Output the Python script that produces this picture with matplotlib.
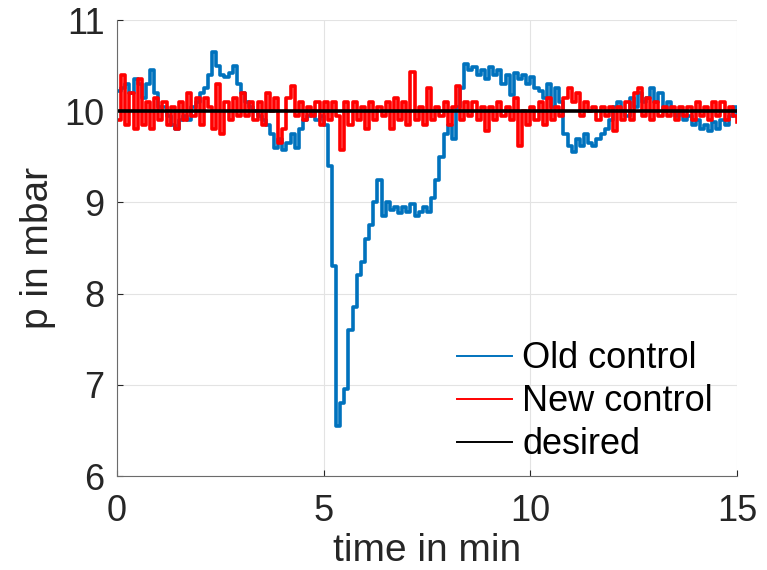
import numpy as np
import matplotlib.pyplot as plt

plt.rcParams['font.family'] = ['Liberation Sans', 'DejaVu Sans']

# pressure readings, one sample every 0.1 min
dt = 0.1
p_old = [10.22, 10.25, 10.3, 10.2, 10.35, 10.3, 10.15, 10.3, 10.45, 10.2,
         10.05, 10.05, 9.95, 9.85, 9.8, 9.9, 9.95, 9.9, 10.05, 10.1,
         10.2, 10.25, 10.4, 10.65, 10.5, 10.4, 10.38, 10.42, 10.5, 10.3,
         10.2, 10.1, 10.05, 10.0, 9.95, 9.9, 9.85, 9.75, 9.6, 9.7,
         9.58, 9.65, 9.75, 9.6, 9.8, 9.9, 9.95, 10.0, 9.9, 9.95,
         9.85, 9.4, 8.3, 6.55, 6.8, 6.95, 7.6, 7.85, 8.2, 8.35,
         8.6, 8.75, 9.0, 9.25, 8.85, 9.0, 8.92, 8.95, 8.88, 8.95,
         8.9, 8.98, 8.85, 8.9, 8.95, 8.9, 9.05, 9.25, 9.5, 9.75,
         9.85, 9.7, 10.05, 10.25, 10.52, 10.45, 10.48, 10.4, 10.45, 10.35,
         10.48, 10.4, 10.45, 10.3, 10.4, 10.18, 10.42, 10.35, 10.4, 10.3,
         10.38, 10.25, 10.22, 10.15, 10.3, 10.05, 10.25, 10.1, 9.75, 9.62,
         9.55, 9.7, 9.62, 9.75, 9.65, 9.62, 9.7, 9.75, 9.8, 9.9,
         10.05, 10.1, 10.0, 9.95, 10.15, 10.05, 10.2, 10.1, 10.15, 10.25,
         10.1, 10.2, 10.0, 10.1, 10.0, 9.95, 10.0, 9.9, 9.95, 9.85,
         9.9, 9.8, 9.85, 9.78, 9.88, 9.8, 9.9, 9.85, 9.95, 10.05,
         9.95]
p_new = [9.9, 10.4, 9.85, 10.2, 9.8, 10.35, 9.85, 10.1, 9.8, 10.15,
         9.9, 10.1, 9.85, 10.05, 9.8, 10.1, 9.9, 10.2, 9.95, 10.15,
         9.85, 10.15, 10.05, 9.8, 10.3, 9.75, 10.1, 9.9, 10.15, 9.95,
         10.2, 9.95, 10.1, 9.9, 10.1, 9.85, 10.2, 10.0, 10.15, 9.65,
         9.8, 10.15, 10.28, 9.95, 10.1, 9.9, 10.05, 9.95, 10.1, 9.85,
         10.1, 9.9, 10.1, 9.95, 9.58, 10.1, 9.85, 10.1, 9.9, 10.05,
         9.8, 10.1, 9.9, 10.05, 9.95, 10.1, 9.8, 10.15, 9.9, 10.1,
         9.85, 10.43, 9.9, 10.05, 9.85, 10.25, 9.9, 10.05, 9.95, 10.1,
         9.85, 10.05, 10.28, 9.9, 10.1, 9.95, 10.1, 9.9, 10.05, 9.78,
         10.05, 9.9, 10.1, 9.95, 10.05, 9.9, 10.15, 9.62, 10.0, 9.85,
         10.05, 9.9, 10.1, 9.85, 10.15, 9.9, 10.05, 9.95, 10.15, 10.25,
         10.1, 10.2, 9.95, 10.1, 10.0, 10.05, 9.9, 10.05, 9.95, 10.05,
         9.78, 10.05, 9.9, 10.1, 9.9, 10.2, 10.25, 9.95, 10.15, 9.9,
         10.1, 9.95, 10.05, 9.95, 10.05, 9.9, 10.05, 9.95, 10.05, 9.9,
         10.1, 9.95, 10.05, 9.9, 10.1, 9.95, 10.1, 9.9, 10.05, 9.95,
         9.88]
p_desired = 10.0

t_old = np.arange(len(p_old)) * dt
t_new = np.arange(len(p_new)) * dt

fig = plt.figure(figsize=(7.67, 5.70), dpi=100)
ax = fig.add_axes([117/767, 1 - 476/570, 620/767, 456/570])

ax.plot(t_old, p_old, drawstyle='steps-post', color='#0072BD', lw=2.6, label='Old control')
ax.plot(t_new, p_new, drawstyle='steps-post', color='#FF0000', lw=2.6, label='New control')
ax.plot([0, 15], [p_desired, p_desired], color='black', lw=2.6, label='desired')

ax.set_xlim(0, 15)
ax.set_ylim(6, 11)
ax.set_xticks([0, 5, 10, 15])
ax.set_yticks([6, 7, 8, 9, 10, 11])
ax.grid(True, color='#e3e3e3', lw=0.8)
ax.set_axisbelow(True)
for s in ['top', 'right']:
    ax.spines[s].set_visible(False)
for s in ['left', 'bottom']:
    ax.spines[s].set_color('#6b6b6b')
ax.tick_params(direction='in', length=4, color='#262626', labelsize=26,
               labelcolor='#262626')
ax.tick_params(axis='x', pad=13)
ax.tick_params(axis='y', pad=9)
ax.set_xlabel('time in min', fontsize=28, color='#262626', labelpad=3)
ax.set_ylabel('p in mbar', fontsize=28, color='#262626', labelpad=6)

leg = ax.legend(loc='upper left', bbox_to_anchor=(0.52, 0.335), frameon=False,
                fontsize=26, borderpad=0, handlelength=1.5, handletextpad=0.3,
                labelspacing=0.22)
for line in leg.get_lines():
    line.set_linewidth(1.4)

fig.savefig('out.png', dpi=100)
